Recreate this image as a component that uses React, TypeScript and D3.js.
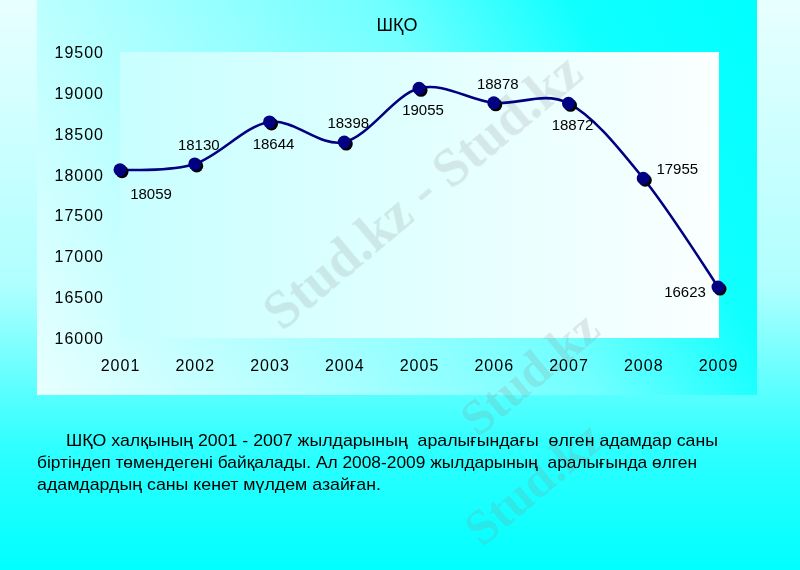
import React from "react";
import * as d3 from "d3";

const years = ["2001", "2002", "2003", "2004", "2005", "2006", "2007", "2008", "2009"];
const deaths = [18059, 18130, 18644, 18398, 19055, 18878, 18872, 17955, 16623];
const labelSide = ["belowRight", "above", "below", "above", "below", "above", "below", "right", "left"];
const yTicks = [16000, 16500, 17000, 17500, 18000, 18500, 19000, 19500];
const title = "ШҚО";
const paragraph = [
  "ШҚО халқының 2001 - 2007 жылдарының  аралығындағы  өлген адамдар саны",
  "біртіндеп төмендегені байқалады. Ал 2008-2009 жылдарының  аралығында өлген",
  "адамдардың саны кенет мүлдем азайған.",
];
const watermarks = ["Stud.kz - Stud.kz", "Stud.kz", "Stud.kz"];

const W = 800;
const H = 570;
const FONT = "'Liberation Sans', Arial, sans-serif";

export default function App() {
  const plot = { left: 120, top: 52, right: 719, bottom: 338 };
  const x = d3.scalePoint<string>().domain(years).range([plot.left, plot.right - 1]);
  const y = d3.scaleLinear().domain([16000, 19500]).range([plot.bottom, plot.top]);

  const pts: [number, number][] = years.map((yr, i) => [x(yr) as number, y(deaths[i])]);
  const line = d3.line().curve(d3.curveCardinal.tension(0))(pts) || "";

  const offsets: Record<string, [number, number]> = {
    belowRight: [31, 29],
    above: [4, -14],
    below: [4, 27],
    right: [34, -4],
    left: [-33, 10],
  };

  const lineStarts = [66, 37, 37];
  const lineEnds = [718, 697, 381];

  return (
    <svg width={W} height={H} style={{ display: "block", position: "absolute", left: 0, top: 0 }} fontFamily={FONT}>
      <defs>
        <linearGradient id="pageBg" x1="0" y1="0" x2="0" y2="1">
          <stop offset="0" stopColor="#e8ffff" />
          <stop offset="0.5" stopColor="#b0ffff" />
          <stop offset="0.78" stopColor="#30ffff" />
          <stop offset="1" stopColor="#00ffff" />
        </linearGradient>
        <linearGradient id="chartBg" gradientUnits="userSpaceOnUse" x1="37" y1="395" x2="757" y2="0">
          <stop offset="0" stopColor="#e8ffff" />
          <stop offset="0.25" stopColor="#b8ffff" />
          <stop offset="0.6" stopColor="#70ffff" />
          <stop offset="0.8" stopColor="#10ffff" />
          <stop offset="1" stopColor="#00ffff" />
        </linearGradient>
        <linearGradient id="plotBg" x1="0" y1="0" x2="1" y2="0">
          <stop offset="0" stopColor="#c8ffff" />
          <stop offset="1" stopColor="#fbffff" />
        </linearGradient>
      </defs>

      <rect x={0} y={0} width={W} height={H} fill="url(#pageBg)" />
      <rect x={37} y={0} width={720} height={395} fill="url(#chartBg)" />
      <rect x={plot.left} y={plot.top} width={plot.right - plot.left} height={plot.bottom - plot.top} fill="url(#plotBg)" />

      <g fontFamily="'Liberation Serif', serif" fontWeight="bold" fill="#8c8c8c" opacity={0.2}>
        <text x={282} y={332} fontSize={54} transform="rotate(-40 282 332)">
          {watermarks[0]}
        </text>
        <text x={478} y={438} fontSize={50} transform="rotate(-40 478 438)">
          {watermarks[1]}
        </text>
        <text x={482} y={548} fontSize={50} transform="rotate(-40 482 548)">
          {watermarks[2]}
        </text>
      </g>

      <text x={397} y={31} textAnchor="middle" fontSize={18} fill="#000">
        {title}
      </text>

      {yTicks.map((t) => (
        <text key={t} x={104} y={y(t) + 6} textAnchor="end" fontSize={16} letterSpacing={1} fill="#000">
          {t}
        </text>
      ))}
      {years.map((yr) => (
        <text key={yr} x={(x(yr) as number) + 0.5} y={371} textAnchor="middle" fontSize={16} letterSpacing={1} fill="#000">
          {yr}
        </text>
      ))}

      <path d={line} fill="none" stroke="#000080" strokeWidth={2.6} />

      {pts.map(([px, py], i) => (
        <g key={i}>
          <circle cx={px + 2} cy={py + 2} r={6.5} fill="#000" />
          <circle cx={px} cy={py} r={6.5} fill="#000080" />
        </g>
      ))}

      {pts.map(([px, py], i) => {
        const [dx, dy] = offsets[labelSide[i]];
        return (
          <text key={"l" + i} x={px + dx} y={py + dy} textAnchor="middle" fontSize={15} fill="#000">
            {deaths[i]}
          </text>
        );
      })}

      {paragraph.map((ln, i) => (
        <text
          key={"p" + i}
          x={lineStarts[i]}
          y={446 + i * 22}
          fontSize={17}
          fill="#000"
          style={{ whiteSpace: "pre" }}
          textLength={lineEnds[i] - lineStarts[i]}
          lengthAdjust="spacingAndGlyphs"
        >
          {ln}
        </text>
      ))}
    </svg>
  );
}
